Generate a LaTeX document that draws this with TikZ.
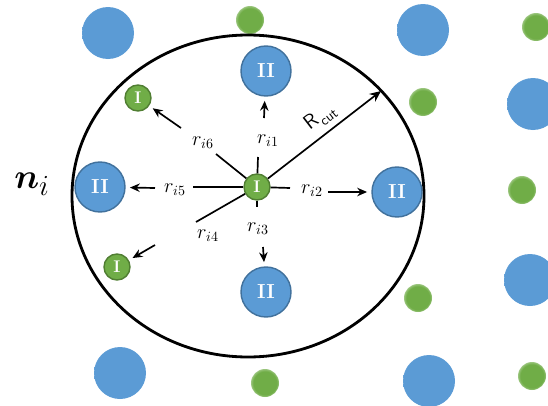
\documentclass[tikz,border=0pt]{standalone}
\usepackage{amsmath, amssymb}
\usetikzlibrary{arrows.meta, positioning}

\definecolor{bblue}{RGB}{91,155,213}
\definecolor{bedge}{RGB}{65,113,156}
\definecolor{ggreen}{RGB}{112,173,71}
\definecolor{gedge}{RGB}{80,126,50}

% soft (out of focus) lattice atoms
\pgfdeclareradialshading{softblue}{\pgfpoint{0bp}{0bp}}{%
  color(0bp)=(bblue); color(25bp)=(bblue); color(35bp)=(white); color(50bp)=(white)}
\pgfdeclareradialshading{softgreen}{\pgfpoint{0bp}{0bp}}{%
  color(0bp)=(ggreen); color(21bp)=(ggreen); color(35bp)=(white); color(50bp)=(white)}

\begin{document}
\begin{tikzpicture}[x=0.25mm, y=-0.25mm, thick,
    big/.style={circle, draw=bedge, line width=1pt, fill=bblue, minimum size=12.5mm,
      inner sep=0pt, text=white, font=\bfseries\Large},
    small/.style={circle, draw=gedge, line width=1pt, fill=ggreen, minimum size=6.5mm,
      inner sep=0pt, text=white, font=\bfseries\large},
    fuzzyII/.style={shading=softblue},
    fuzzyI/.style={shading=softgreen},
    bond/.style={line width=1.2pt},
    arr/.style={line width=1.2pt, -{Stealth[length=7pt, width=6pt]}, shorten >=3pt},
    lbl/.style={font=\Large, inner sep=1pt}]
      \useasboundingbox (0,0) rectangle (548,406);

      % lattice outside the cut-off
      \foreach \p in {(108,33), (423,30), (533,104), (530,280), (429,381), (120,373)}
        \shade[fuzzyII] \p circle (26);
      \foreach \p in {(250,20), (536,27), (423,102), (522,190), (418,298), (532,376), (265,383)}
        \shade[fuzzyI] \p circle (14);

      % cut-off sphere
      \draw[line width=2pt] (248,196) ellipse (176 and 161);
      \node[font=\fontsize{30}{32}\selectfont] (ni) at (32,184) {$\boldsymbol{n}_{i}$};

      % atoms inside
      \node[small] (c) at (257,187) {I};
      \node[big] (n1) at (266,71) {II};
      \node[big] (n2) at (397,192) {II};
      \node[big] (n3) at (266,292) {II};
      \node[small] (n4) at (117,267) {I};
      \node[big] (n5) at (100,187) {II};
      \node[small] (n6) at (138,98) {I};

      % distances
      \coordinate (e1) at (258,157);
      \coordinate (e2) at (290,188);
      \coordinate (e3) at (257,207);
      \coordinate (e4) at (196,222);
      \coordinate (e5) at (193,187);
      \coordinate (e6) at (216,154);
      \coordinate (rc) at (381,91);
      \foreach \i in {1,...,6}
        \draw[bond] (c) -- (e\i);
      \draw[bond, -{Stealth[length=8pt, width=7pt]}] (c) -- node[lbl, sloped, above=3pt, pos=0.55, font=\Large\sffamily]
        {R\kern1pt\raisebox{-0.6ex}{\normalsize cut}} (rc);

      \node[lbl] (l1) at (268,141) {$r_{i1}$};
      \node[lbl] (l2) at (312,191) {$r_{i2}$};
      \node[lbl] (l3) at (258,229) {$r_{i3}$};
      \node[lbl] (l4) at (208,236) {$r_{i4}$};
      \node[lbl] (l5) at (175,190) {$r_{i5}$};
      \node[lbl] (l6) at (203,143) {$r_{i6}$};

      \coordinate (t1) at (264,118);
      \coordinate (t2) at (328,192);
      \coordinate (t3) at (263,247);
      \coordinate (t4) at (155,245);
      \coordinate (t5) at (155,188);
      \coordinate (t6) at (181,128);
      \foreach \i in {1,...,6}
        \draw[arr] (t\i) -- (n\i);
    \end{tikzpicture}
\end{document}
